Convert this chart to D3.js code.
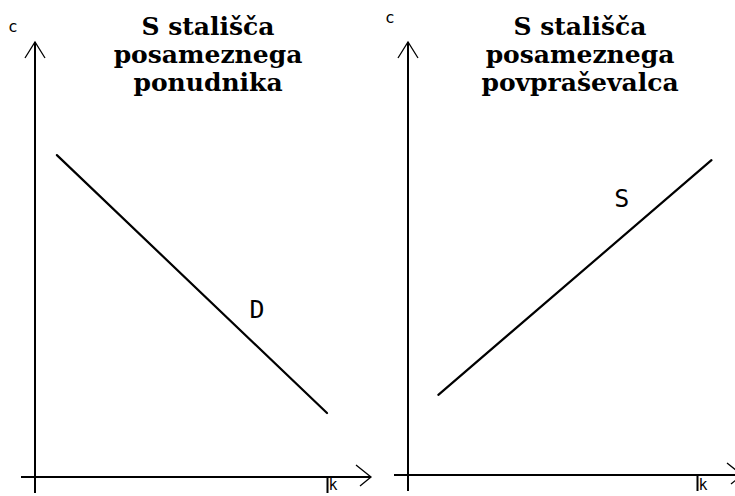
<!DOCTYPE html>
<html>
<head>
<meta charset="utf-8">
<script src="https://cdn.jsdelivr.net/npm/d3@7"></script>
<style>
  html, body { margin: 0; padding: 0; background: #fff; }
  svg { display: block; }
</style>
</head>
<body>
<svg id="chart"></svg>
<script>
const width = 735, height = 496;

// data (quantity k, price c, in axis units 0..10)
const demandQty = [0.75, 10];
const demandPrice = [7.4, 1.47];
const supplyQty = [1.05, 10.5];
const supplyPrice = [1.85, 7.27];

const leftTitle = ["S stališča", "posameznega", "ponudnika"];
const rightTitle = ["S stališča", "posameznega", "povpraševalca"];
const xLabel = "k", yLabel = "c";

const svg = d3.select("#chart")
  .attr("width", width)
  .attr("height", height);

const drawPanel = (cfg) => {
  const { x0, x1, y0, y1, title, titleX, cY, cX, qty, price, lineLabel, labelPos, axisRight } = cfg;
  const g = svg.append("g");

  const xScale = d3.scaleLinear().domain([0, 10]).range([x0, x1]);
  const yScale = d3.scaleLinear().domain([0, 10]).range([y0, y1]);

  // x axis line with arrow
  g.append("line")
    .attr("x1", x0 - 14).attr("x2", axisRight)
    .attr("y1", y0).attr("y2", y0)
    .attr("stroke", "#000").attr("stroke-width", 2);
  g.append("path")
    .attr("d", `M${axisRight - 15},${y0 - 12}L${axisRight},${y0}L${axisRight - 11},${y0 + 9}`)
    .attr("fill", "none").attr("stroke", "#000").attr("stroke-width", 1.3);

  // y axis line with arrow
  g.append("line")
    .attr("x1", x0).attr("x2", x0)
    .attr("y1", y0 + 16).attr("y2", y1)
    .attr("stroke", "#000").attr("stroke-width", 2);
  g.append("path")
    .attr("d", `M${x0 - 10},${y1 + 16}L${x0},${y1}L${x0 + 10},${y1 + 16}`)
    .attr("fill", "none").attr("stroke", "#000").attr("stroke-width", 1.3);

  // k tick
  const xAxis = d3.axisBottom(xScale).tickValues([10]).tickSize(16).tickFormat(() => xLabel);
  const ax = g.append("g")
    .attr("transform", `translate(0,${y0})`)
    .call(xAxis);
  ax.select(".domain").remove();
  ax.selectAll(".tick line").attr("stroke", "#000").attr("stroke-width", 2);
  ax.selectAll(".tick text")
    .attr("y", height - y0 - 6).attr("dy", 0).attr("dx", 1)
    .attr("text-anchor", "start")
    .attr("font-family", "DejaVu Sans Mono")
    .attr("font-size", 15)
    .attr("fill", "#000");

  // c label
  g.append("text")
    .attr("x", cX).attr("y", cY)
    .attr("font-family", "DejaVu Sans Mono")
    .attr("font-size", 16)
    .text(yLabel);

  // title
  g.append("text")
    .attr("font-family", "DejaVu Serif")
    .attr("font-weight", "bold")
    .attr("font-size", 25)
    .attr("text-anchor", "middle")
    .selectAll("tspan")
    .data(title)
    .join("tspan")
    .attr("x", titleX)
    .attr("y", (d, i) => 35 + i * 28)
    .text(d => d);

  // curve
  const pts = qty.map((q, i) => [q, price[i]]);
  g.append("path")
    .datum(pts)
    .attr("d", d3.line().x(d => xScale(d[0])).y(d => yScale(d[1])))
    .attr("fill", "none")
    .attr("stroke", "#000")
    .attr("stroke-width", 2.2)
    .attr("stroke-linecap", "round");

  g.append("text")
    .attr("x", xScale(labelPos[0])).attr("y", yScale(labelPos[1]))
    .attr("text-anchor", "middle")
    .attr("font-family", "DejaVu Sans Mono")
    .attr("font-size", 25)
    .text(lineLabel);
};

drawPanel({
  x0: 35, x1: 327, y0: 477, y1: 42, axisRight: 371,
  title: leftTitle, titleX: 208, cX: 8, cY: 32,
  qty: demandQty, price: demandPrice,
  lineLabel: "D", labelPos: [7.6, 3.65]
});

drawPanel({
  x0: 408, x1: 697, y0: 475, y1: 42, axisRight: 742,
  title: rightTitle, titleX: 580, cX: 385, cY: 23,
  qty: supplyQty, price: supplyPrice,
  lineLabel: "S", labelPos: [7.4, 6.2]
});
</script>
</body>
</html>
